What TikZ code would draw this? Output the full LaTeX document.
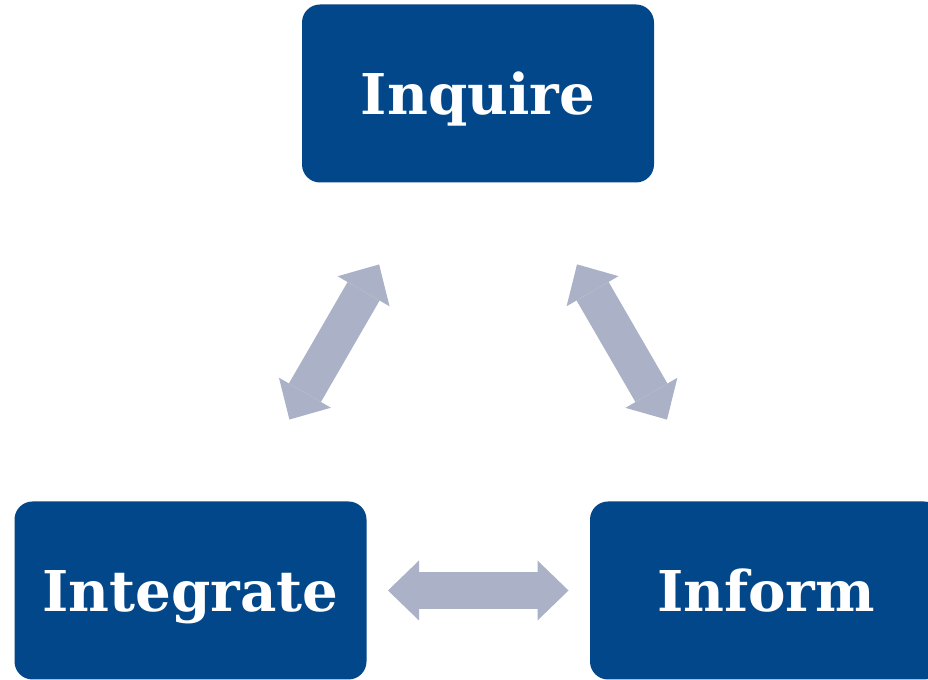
\documentclass[tikz,border=0pt]{standalone}
\usepackage{fontspec}
\setmainfont{DejaVu Serif}
\usepackage{xcolor}
\usetikzlibrary{arrows.meta}
\usetikzlibrary{positioning}
\definecolor{boxblue}{RGB}{1,71,137}
\definecolor{arrowgrey}{RGB}{171,177,198}
\tikzstyle{stage} = [rectangle, rounded corners=0.36cm, minimum width=7.04cm, minimum height=3.56cm, inner sep=0pt, fill=boxblue, text=white, text height=0.84cm, text depth=0pt, font=\bfseries\fontsize{32}{38}\selectfont]
\tikzstyle{link} = [draw=arrowgrey, line width=0.74cm, {Triangle[length=0.62cm, width=1.2cm, line width=0pt]}-{Triangle[length=0.62cm, width=1.2cm, line width=0pt]}, shorten <=3.95cm, shorten >=3.95cm]

\begin{document}
\begin{tikzpicture}
    \useasboundingbox (0,0) rectangle (18.56,13.6);
    \clip (0,0) rectangle (18.56,13.6);
    \node(inquire)[stage] at (9.56,11.73) {Inquire};
    \node(integrate)[stage] at (3.81,1.79) {Integrate};
    \node(inform)[stage] at (15.32,1.79) {Inform};
    %
    \draw[link] (integrate.center) -- (inquire.center);
    \draw[link] (inform.center) -- (inquire.center);
    \draw[link] (integrate.center) -- (inform.center);
  \end{tikzpicture}
\end{document}
